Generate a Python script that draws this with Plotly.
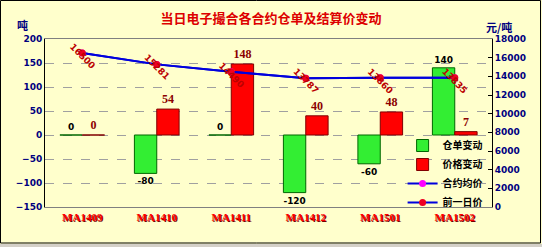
import plotly.graph_objects as go

categories = ["MA1409", "MA1410", "MA1411", "MA1412", "MA1501", "MA1502"]
warrant_change = [0, -80, 0, -120, -60, 140]      # 仓单变动 (吨)
price_change = [0, 54, 148, 40, 48, 7]            # 价格变动 (元/吨)
avg_price = [16500, 15281, 14490, 13787, 13860, 13835]   # 合约均价
prev_price = [16500, 15281, 14490, 13787, 13860, 13835]  # 前一日价

left_ticks = [-150, -100, -50, 0, 50, 100, 150, 200]
right_ticks = [0, 2000, 4000, 6000, 8000, 10000, 12000, 14000, 16000, 18000]

W, H = 542, 247
ML, MR, MT, MB = 45, 50, 39, 40
PW, PH = W - ML - MR, H - MT - MB

bg = "#FFFFCC"
navy = "#000080"
xs = list(range(len(categories)))

fig = go.Figure()
fig.add_trace(go.Bar(
    x=xs, y=warrant_change, name="仓单变动",
    marker=dict(color="#33EE33", line=dict(color="#006600", width=1)),
    text=[str(v) for v in warrant_change], textposition="outside",
    textfont=dict(family="DejaVu Sans", size=9, color="black", weight="bold"),
    cliponaxis=False,
))
fig.add_trace(go.Bar(
    x=xs, y=price_change, name="价格变动",
    marker=dict(color="#FF0000", line=dict(color="#800000", width=1)),
    text=[str(v) for v in price_change], textposition="outside",
    textfont=dict(family="Liberation Serif", size=12, color="#8B0000", weight="bold"),
    cliponaxis=False,
))
fig.add_trace(go.Scatter(
    x=xs, y=avg_price, name="合约均价", yaxis="y2", mode="lines+markers",
    line=dict(color="#0000DD", width=2),
    marker=dict(color="#FF00FF", size=7),
))
fig.add_trace(go.Scatter(
    x=xs, y=prev_price, name="前一日价", yaxis="y2", mode="lines+markers",
    line=dict(color="#0000DD", width=2),
    marker=dict(color="#EE0022", size=7),
))

for i, v in enumerate(avg_price):
    fig.add_annotation(x=xs[i], y=v, yref="y2", text=str(v), showarrow=False,
                       textangle=45, yshift=-3,
                       font=dict(family="DejaVu Sans", size=9, color="#BB0000", weight="bold"))

fig.add_annotation(xref="paper", yref="paper", x=(15 - ML) / PW,
                   y=1 + (MT - 15) / PH, text="吨", showarrow=False,
                   font=dict(family="Noto Sans CJK SC", size=11, color=navy, weight="bold"))
fig.add_annotation(xref="paper", yref="paper", x=(514 - ML) / PW, y=1 + (MT - 17) / PH,
                   text="元/吨", showarrow=False,
                   font=dict(family="Noto Sans CJK SC", size=11, color=navy, weight="bold"))

# outer border and bottom strip
fig.add_shape(type="rect", xref="paper", yref="paper",
              x0=(0.5 - ML) / PW, x1=(W - 1.5 - ML) / PW,
              y0=1 + (MT - 243) / PH, y1=1 + (MT - 0.5) / PH,
              line=dict(color="black", width=1), layer="below")
fig.add_shape(type="rect", xref="paper", yref="paper",
              x0=(0 - ML) / PW, x1=(W - ML) / PW,
              y0=1 + (MT - H) / PH, y1=1 + (MT - 244) / PH,
              line=dict(width=0), fillcolor="#D4D0C8", layer="below")

fig.update_layout(
    width=W, height=H,
    margin=dict(l=ML, r=MR, t=MT, b=MB),
    paper_bgcolor=bg, plot_bgcolor=bg,
    barmode="group", bargap=0.4, bargroupgap=0,
    title=dict(text="当日电子撮合各合约仓单及结算价变动", x=0.5, xanchor="center",
               y=1 - 18 / H, yanchor="middle",
               font=dict(family="Noto Sans CJK SC", size=13, color="#DD0000", weight="bold")),
    xaxis=dict(range=[-0.5, len(categories) - 0.5], tickmode="array", tickvals=xs,
               ticktext=categories, showgrid=False, zeroline=False,
               showline=True, linecolor="#808080", mirror=True, ticks="",
               tickfont=dict(family="Liberation Serif", size=11, color="#FF0000", weight="bold",
                             shadow="1px 1px 0px #700000")),
    xaxis2=dict(overlaying="x", anchor="free", position=(0 - left_ticks[0]) / (left_ticks[-1] - left_ticks[0]),
                range=[-0.5, len(categories) - 0.5], tickmode="array",
                tickvals=[i + 0.5 for i in xs[:-1]], ticks="inside", ticklen=4,
                tickcolor="black", showticklabels=False, showgrid=False, zeroline=False,
                showline=True, linecolor="black", linewidth=1),
    yaxis=dict(range=[left_ticks[0], left_ticks[-1]], tickmode="array", tickvals=left_ticks,
               showgrid=True, gridcolor="#A0A0A0", griddash="dash", gridwidth=1,
               zeroline=False, showline=True, linecolor="black", ticks="",
               tickfont=dict(family="DejaVu Sans", size=9, color=navy, weight="bold")),
    yaxis2=dict(range=[right_ticks[0], right_ticks[-1]], overlaying="y", side="right",
                tickmode="array", tickvals=right_ticks, ticktext=[str(v) for v in right_ticks],
                showgrid=False, zeroline=False,
                showline=True, linecolor="black", ticks="inside", ticklen=4, tickcolor="black",
                tickfont=dict(family="DejaVu Sans", size=9, color=navy, weight="bold")),
    legend=dict(x=0.80, y=1 - (131 - MT) / PH, xanchor="left", yanchor="top",
                bgcolor="rgba(0,0,0,0)", tracegroupgap=0, itemwidth=30,
                font=dict(family="Noto Sans CJK SC", size=10, color="black", weight="bold")),
    showlegend=True,
)

fig.write_html("out.html")
